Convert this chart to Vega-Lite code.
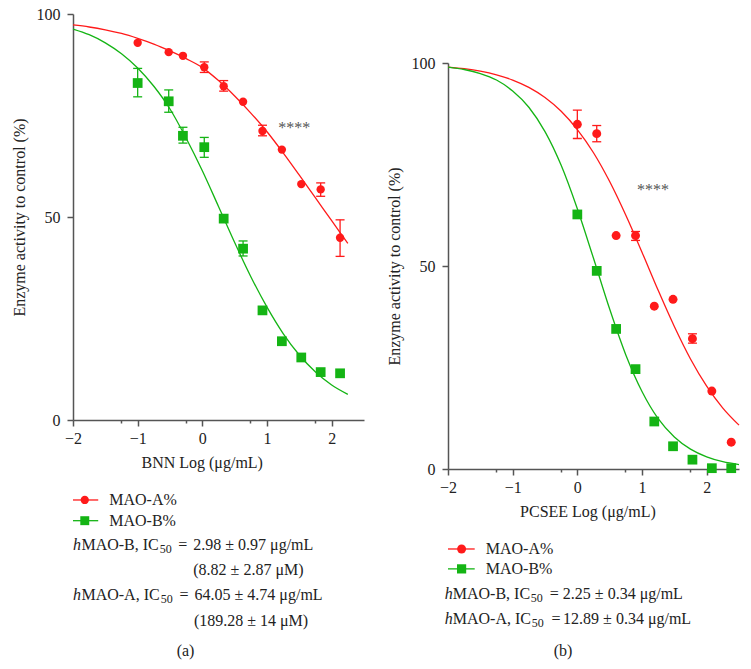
{
  "$schema": "https://vega.github.io/schema/vega-lite/v6.json",
  "padding": {"left": 11, "top": 6, "right": 5, "bottom": 5},
  "autosize": {"type": "pad"},
  "background": "white",
  "bounds": "flush",
  "spacing": 84,
  "config": {
    "view": {"stroke": null},
    "font": "Liberation Serif",
    "axis": {"labelFont": "Liberation Serif", "titleFont": "Liberation Serif", "labelFontSize": 16, "titleFontSize": 16, "titleFontWeight": "normal", "labelColor": "#222", "titleColor": "#222", "domainColor": "#555", "tickColor": "#555", "domainWidth": 1.5, "tickWidth": 1.5, "grid": false, "labelFlush": false, "labelOverlap": false},
    "text": {"font": "Liberation Serif", "fontSize": 16, "color": "#222", "align": "left", "baseline": "middle"}
  },
  "hconcat": [
    {
      "width": 291,
      "height": 406,
      "encoding": {
        "x": {"field": "x", "type": "quantitative", "title": "BNN Log (μg/mL)", "scale": {"domain": [-2, 2.5], "nice": false, "zero": false},
          "axis": {"values": [-2, -1.26, -1, -0.26, 0, 0.74, 1, 1.74, 2], "labelExpr": "abs(datum.value - round(datum.value)) < 0.01 ? format(datum.value, 'd') : ''", "tickSize": {"condition": {"test": "abs(datum.value - round(datum.value)) < 0.01", "value": 6}, "value": 3}, "labelPadding": 4, "titlePadding": 8, "titleX": 128.7}},
        "y": {"field": "y", "type": "quantitative", "title": "Enzyme activity to control (%)", "scale": {"domain": [0, 100], "nice": false, "zero": false},
          "axis": {"values": [0, 50, 100], "tickSize": 6, "labelPadding": 7, "titlePadding": 9}}
      },
      "layer": [
        {
          "data": {"values": [
            {"series": "MAO-A%", "x": -2, "y": 97.3}, {"series": "MAO-A%", "x": -1.75, "y": 96.8}, {"series": "MAO-A%", "x": -1.5, "y": 96.1}, {"series": "MAO-A%", "x": -1.25, "y": 95.2}, {"series": "MAO-A%", "x": -1, "y": 94.0}, {"series": "MAO-A%", "x": -0.75, "y": 92.6}, {"series": "MAO-A%", "x": -0.5, "y": 90.9}, {"series": "MAO-A%", "x": -0.25, "y": 89.0}, {"series": "MAO-A%", "x": 0, "y": 86.8}, {"series": "MAO-A%", "x": 0.25, "y": 83.6}, {"series": "MAO-A%", "x": 0.5, "y": 79.8}, {"series": "MAO-A%", "x": 0.75, "y": 75.6}, {"series": "MAO-A%", "x": 1, "y": 71.0}, {"series": "MAO-A%", "x": 1.25, "y": 65.8}, {"series": "MAO-A%", "x": 1.5, "y": 60.3}, {"series": "MAO-A%", "x": 1.75, "y": 54.7}, {"series": "MAO-A%", "x": 2, "y": 49.1}, {"series": "MAO-A%", "x": 2.25, "y": 43.5},
            {"series": "MAO-B%", "x": -2, "y": 96.3}, {"series": "MAO-B%", "x": -1.75, "y": 94.9}, {"series": "MAO-B%", "x": -1.5, "y": 92.9}, {"series": "MAO-B%", "x": -1.25, "y": 90.2}, {"series": "MAO-B%", "x": -1, "y": 86.7}, {"series": "MAO-B%", "x": -0.75, "y": 82.2}, {"series": "MAO-B%", "x": -0.5, "y": 76.6}, {"series": "MAO-B%", "x": -0.25, "y": 69.4}, {"series": "MAO-B%", "x": 0, "y": 61.4}, {"series": "MAO-B%", "x": 0.25, "y": 52.6}, {"series": "MAO-B%", "x": 0.5, "y": 43.7}, {"series": "MAO-B%", "x": 0.75, "y": 35.3}, {"series": "MAO-B%", "x": 1, "y": 27.8}, {"series": "MAO-B%", "x": 1.25, "y": 21.3}, {"series": "MAO-B%", "x": 1.5, "y": 16.0}, {"series": "MAO-B%", "x": 1.75, "y": 11.8}, {"series": "MAO-B%", "x": 2, "y": 8.6}, {"series": "MAO-B%", "x": 2.25, "y": 6.3}
          ]},
          "mark": {"type": "line", "strokeWidth": 1.3, "interpolate": "monotone"},
          "encoding": {"color": {"field": "series", "type": "nominal", "scale": {"domain": ["MAO-A%", "MAO-B%"], "range": ["#ff1a1a", "#14b414"]}, "legend": null}}
        },
        {
          "data": {"values": [
            {"series": "MAO-A%", "x": 0.03, "y": 85.6, "y2": 88.2}, {"series": "MAO-A%", "x": 0.33, "y": 81.0, "y2": 83.6}, {"series": "MAO-A%", "x": 0.93, "y": 70.0, "y2": 72.6}, {"series": "MAO-A%", "x": 1.83, "y": 55.1, "y2": 58.4}, {"series": "MAO-A%", "x": 2.13, "y": 40.3, "y2": 49.3},
            {"series": "MAO-B%", "x": -1, "y": 79.6, "y2": 86.6}, {"series": "MAO-B%", "x": -0.52, "y": 75.8, "y2": 81.3}, {"series": "MAO-B%", "x": -0.3, "y": 68.2, "y2": 72.1}, {"series": "MAO-B%", "x": 0.03, "y": 64.7, "y2": 69.6}, {"series": "MAO-B%", "x": 0.63, "y": 40.4, "y2": 44.1}
          ]},
          "layer": [
            {"mark": {"type": "rule", "strokeWidth": 1.3}, "encoding": {"y2": {"field": "y2"}, "color": {"field": "series", "type": "nominal", "scale": {"domain": ["MAO-A%", "MAO-B%"], "range": ["#ff1a1a", "#14b414"]}, "legend": null}}},
            {"mark": {"type": "tick", "orient": "horizontal", "size": 9, "thickness": 1.3, "opacity": 1}, "encoding": {"color": {"field": "series", "type": "nominal", "scale": {"domain": ["MAO-A%", "MAO-B%"], "range": ["#ff1a1a", "#14b414"]}, "legend": null}}},
            {"mark": {"type": "tick", "orient": "horizontal", "size": 9, "thickness": 1.3, "opacity": 1}, "encoding": {"y": {"field": "y2", "type": "quantitative"}, "color": {"field": "series", "type": "nominal", "scale": {"domain": ["MAO-A%", "MAO-B%"], "range": ["#ff1a1a", "#14b414"]}, "legend": null}}}
          ]
        },
        {
          "data": {"values": [
            {"series": "MAO-A%", "x": -1, "y": 92.9}, {"series": "MAO-A%", "x": -0.52, "y": 90.6}, {"series": "MAO-A%", "x": -0.3, "y": 89.7}, {"series": "MAO-A%", "x": 0.03, "y": 86.9}, {"series": "MAO-A%", "x": 0.33, "y": 82.2}, {"series": "MAO-A%", "x": 0.63, "y": 78.4}, {"series": "MAO-A%", "x": 0.93, "y": 71.2}, {"series": "MAO-A%", "x": 1.23, "y": 66.6}, {"series": "MAO-A%", "x": 1.53, "y": 58.1}, {"series": "MAO-A%", "x": 1.83, "y": 56.8}, {"series": "MAO-A%", "x": 2.13, "y": 44.9},
            {"series": "MAO-B%", "x": -1, "y": 83.0}, {"series": "MAO-B%", "x": -0.52, "y": 78.5}, {"series": "MAO-B%", "x": -0.3, "y": 70.0}, {"series": "MAO-B%", "x": 0.03, "y": 67.2}, {"series": "MAO-B%", "x": 0.33, "y": 49.6}, {"series": "MAO-B%", "x": 0.63, "y": 42.2}, {"series": "MAO-B%", "x": 0.93, "y": 27.0}, {"series": "MAO-B%", "x": 1.23, "y": 19.4}, {"series": "MAO-B%", "x": 1.53, "y": 15.4}, {"series": "MAO-B%", "x": 1.83, "y": 11.8}, {"series": "MAO-B%", "x": 2.13, "y": 11.5}
          ]},
          "layer": [
            {"transform": [{"filter": "datum.series === 'MAO-A%'"}], "mark": {"type": "circle", "size": 70, "opacity": 1, "color": "#ff1a1a"}},
            {"transform": [{"filter": "datum.series === 'MAO-B%'"}], "mark": {"type": "square", "size": 95, "opacity": 1, "color": "#14b414"}}
          ]
        },
        {
          "data": {"values": [
            {"series": "MAO-A%", "x": -2.0, "x2": -1.61, "xm": -1.818, "tx": -1.44, "y": -19.7, "t": "MAO-A%"},
            {"series": "MAO-B%", "x": -2.0, "x2": -1.61, "xm": -1.818, "tx": -1.44, "y": -24.8, "t": "MAO-B%"}
          ]},
          "layer": [
            {"mark": {"type": "rule", "strokeWidth": 1.3}, "encoding": {"x2": {"field": "x2"}, "color": {"field": "series", "type": "nominal", "scale": {"domain": ["MAO-A%", "MAO-B%"], "range": ["#ff1a1a", "#14b414"]}, "legend": null}}},
            {"transform": [{"filter": "datum.series === 'MAO-A%'"}], "mark": {"type": "circle", "size": 68, "opacity": 1, "color": "#ff1a1a"}, "encoding": {"x": {"field": "xm", "type": "quantitative"}}},
            {"transform": [{"filter": "datum.series === 'MAO-B%'"}], "mark": {"type": "square", "size": 80, "opacity": 1, "color": "#14b414"}, "encoding": {"x": {"field": "xm", "type": "quantitative"}}},
            {"mark": {"type": "text"}, "encoding": {"x": {"field": "tx", "type": "quantitative"}, "text": {"field": "t"}}}
          ]
        },
        {
          "data": {"values": [
            {"x": -1.87, "y": -30.8, "t": "MAO-B, IC"},
            {"x": -0.374, "y": -30.8, "t": "="},
            {"x": -0.14, "y": -30.8, "t": "2.98 ± 0.97 μg/mL"},
            {"x": -0.14, "y": -37.0, "t": "(8.82 ± 2.87 μM)"},
            {"x": -1.87, "y": -43.1, "t": "MAO-A, IC"},
            {"x": -0.355, "y": -43.1, "t": "="},
            {"x": -0.12, "y": -43.1, "t": "64.05 ± 4.74 μg/mL"},
            {"x": -0.13, "y": -49.4, "t": "(189.28 ± 14 μM)"}
          ]},
          "mark": {"type": "text"},
          "encoding": {"text": {"field": "t"}}
        },
        {
          "data": {"values": [{"x": -2.0, "y": -30.8, "t": "h"}, {"x": -2.0, "y": -43.1, "t": "h"}]},
          "mark": {"type": "text", "fontStyle": "italic"},
          "encoding": {"text": {"field": "t"}}
        },
        {
          "data": {"values": [{"x": -0.657, "y": -31.8, "t": "50"}, {"x": -0.642, "y": -44.1, "t": "50"}]},
          "mark": {"type": "text", "fontSize": 12},
          "encoding": {"text": {"field": "t"}}
        },
        {
          "data": {"values": [{"x": 1.42, "y": 72.0, "t": "****"}]},
          "mark": {"type": "text", "align": "center", "color": "#555", "fontSize": 16},
          "encoding": {"text": {"field": "t"}}
        },
        {
          "data": {"values": [{"x": -0.26, "y": -56.8, "t": "(a)"}]},
          "mark": {"type": "text", "align": "center"},
          "encoding": {"text": {"field": "t"}}
        }
      ]
    },
    {
      "width": 291,
      "height": 455,
      "encoding": {
        "x": {"field": "x", "type": "quantitative", "title": "PCSEE Log (μg/mL)", "scale": {"domain": [-2, 2.5], "nice": false, "zero": false},
          "axis": {"values": [-2, -1.26, -1, -0.26, 0, 0.74, 1, 1.74, 2], "labelExpr": "abs(datum.value - round(datum.value)) < 0.01 ? format(datum.value, 'd') : ''", "tickSize": {"condition": {"test": "abs(datum.value - round(datum.value)) < 0.01", "value": 6}, "value": 3}, "labelPadding": 4, "titlePadding": 8, "titleX": 139.4}},
        "y": {"field": "y", "type": "quantitative", "title": "Enzyme activity to control (%)", "scale": {"domain": [0, 100], "range": [455, 49], "nice": false, "zero": false},
          "axis": {"values": [0, 50, 100], "tickSize": 6, "labelPadding": 7, "titlePadding": 9}}
      },
      "layer": [
        {
          "data": {"values": [
            {"series": "MAO-A%", "x": -2, "y": 99.0}, {"series": "MAO-A%", "x": -1.75, "y": 98.6}, {"series": "MAO-A%", "x": -1.5, "y": 98.0}, {"series": "MAO-A%", "x": -1.25, "y": 97.1}, {"series": "MAO-A%", "x": -1, "y": 95.8}, {"series": "MAO-A%", "x": -0.75, "y": 94.0}, {"series": "MAO-A%", "x": -0.5, "y": 91.5}, {"series": "MAO-A%", "x": -0.25, "y": 88.1}, {"series": "MAO-A%", "x": 0, "y": 83.6}, {"series": "MAO-A%", "x": 0.25, "y": 77.9}, {"series": "MAO-A%", "x": 0.5, "y": 70.8}, {"series": "MAO-A%", "x": 0.75, "y": 62.5}, {"series": "MAO-A%", "x": 1, "y": 53.4}, {"series": "MAO-A%", "x": 1.25, "y": 44.0}, {"series": "MAO-A%", "x": 1.5, "y": 35.1}, {"series": "MAO-A%", "x": 1.75, "y": 27.1}, {"series": "MAO-A%", "x": 2, "y": 20.4}, {"series": "MAO-A%", "x": 2.25, "y": 15.0}, {"series": "MAO-A%", "x": 2.5, "y": 10.8},
            {"series": "MAO-B%", "x": -2, "y": 99.0}, {"series": "MAO-B%", "x": -1.75, "y": 98.4}, {"series": "MAO-B%", "x": -1.5, "y": 97.4}, {"series": "MAO-B%", "x": -1.25, "y": 95.8}, {"series": "MAO-B%", "x": -1, "y": 93.1}, {"series": "MAO-B%", "x": -0.75, "y": 89.1}, {"series": "MAO-B%", "x": -0.5, "y": 83.1}, {"series": "MAO-B%", "x": -0.25, "y": 74.8}, {"series": "MAO-B%", "x": 0, "y": 64.1}, {"series": "MAO-B%", "x": 0.25, "y": 51.9}, {"series": "MAO-B%", "x": 0.5, "y": 39.4}, {"series": "MAO-B%", "x": 0.75, "y": 28.1}, {"series": "MAO-B%", "x": 1, "y": 19.1}, {"series": "MAO-B%", "x": 1.25, "y": 12.4}, {"series": "MAO-B%", "x": 1.5, "y": 7.9}, {"series": "MAO-B%", "x": 1.75, "y": 4.9}, {"series": "MAO-B%", "x": 2, "y": 3.0}, {"series": "MAO-B%", "x": 2.25, "y": 1.8}, {"series": "MAO-B%", "x": 2.5, "y": 1.1}
          ]},
          "mark": {"type": "line", "strokeWidth": 1.3, "interpolate": "monotone"},
          "encoding": {"color": {"field": "series", "type": "nominal", "scale": {"domain": ["MAO-A%", "MAO-B%"], "range": ["#ff1a1a", "#14b414"]}, "legend": null}}
        },
        {
          "data": {"values": [
            {"series": "MAO-A%", "x": 0, "y": 81.4, "y2": 88.4}, {"series": "MAO-A%", "x": 0.3, "y": 80.6, "y2": 84.6}, {"series": "MAO-A%", "x": 0.9, "y": 56.3, "y2": 58.5}, {"series": "MAO-A%", "x": 1.78, "y": 31.0, "y2": 33.3}
          ]},
          "layer": [
            {"mark": {"type": "rule", "strokeWidth": 1.3}, "encoding": {"y2": {"field": "y2"}, "color": {"field": "series", "type": "nominal", "scale": {"domain": ["MAO-A%", "MAO-B%"], "range": ["#ff1a1a", "#14b414"]}, "legend": null}}},
            {"mark": {"type": "tick", "orient": "horizontal", "size": 9, "thickness": 1.3, "opacity": 1}, "encoding": {"color": {"field": "series", "type": "nominal", "scale": {"domain": ["MAO-A%", "MAO-B%"], "range": ["#ff1a1a", "#14b414"]}, "legend": null}}},
            {"mark": {"type": "tick", "orient": "horizontal", "size": 9, "thickness": 1.3, "opacity": 1}, "encoding": {"y": {"field": "y2", "type": "quantitative"}, "color": {"field": "series", "type": "nominal", "scale": {"domain": ["MAO-A%", "MAO-B%"], "range": ["#ff1a1a", "#14b414"]}, "legend": null}}}
          ]
        },
        {
          "data": {"values": [
            {"series": "MAO-A%", "x": 0, "y": 84.9}, {"series": "MAO-A%", "x": 0.3, "y": 82.6}, {"series": "MAO-A%", "x": 0.6, "y": 57.5}, {"series": "MAO-A%", "x": 0.9, "y": 57.5}, {"series": "MAO-A%", "x": 1.19, "y": 40.1}, {"series": "MAO-A%", "x": 1.48, "y": 41.8}, {"series": "MAO-A%", "x": 1.78, "y": 32.1}, {"series": "MAO-A%", "x": 2.08, "y": 19.2}, {"series": "MAO-A%", "x": 2.38, "y": 6.6},
            {"series": "MAO-B%", "x": 0, "y": 62.7}, {"series": "MAO-B%", "x": 0.3, "y": 48.8}, {"series": "MAO-B%", "x": 0.6, "y": 34.5}, {"series": "MAO-B%", "x": 0.9, "y": 24.6}, {"series": "MAO-B%", "x": 1.19, "y": 11.7}, {"series": "MAO-B%", "x": 1.48, "y": 5.6}, {"series": "MAO-B%", "x": 1.78, "y": 2.3}, {"series": "MAO-B%", "x": 2.08, "y": 0.2}, {"series": "MAO-B%", "x": 2.38, "y": 0.2}
          ]},
          "layer": [
            {"transform": [{"filter": "datum.series === 'MAO-A%'"}], "mark": {"type": "circle", "size": 80, "opacity": 1, "color": "#ff1a1a"}},
            {"transform": [{"filter": "datum.series === 'MAO-B%'"}], "mark": {"type": "square", "size": 95, "opacity": 1, "color": "#14b414"}}
          ]
        },
        {
          "data": {"values": [
            {"series": "MAO-A%", "x": -2.0, "x2": -1.587, "xm": -1.79, "tx": -1.416, "y": -19.7, "t": "MAO-A%"},
            {"series": "MAO-B%", "x": -2.0, "x2": -1.587, "xm": -1.79, "tx": -1.416, "y": -24.6, "t": "MAO-B%"}
          ]},
          "layer": [
            {"mark": {"type": "rule", "strokeWidth": 1.3}, "encoding": {"x2": {"field": "x2"}, "color": {"field": "series", "type": "nominal", "scale": {"domain": ["MAO-A%", "MAO-B%"], "range": ["#ff1a1a", "#14b414"]}, "legend": null}}},
            {"transform": [{"filter": "datum.series === 'MAO-A%'"}], "mark": {"type": "circle", "size": 80, "opacity": 1, "color": "#ff1a1a"}, "encoding": {"x": {"field": "xm", "type": "quantitative"}}},
            {"transform": [{"filter": "datum.series === 'MAO-B%'"}], "mark": {"type": "square", "size": 85, "opacity": 1, "color": "#14b414"}, "encoding": {"x": {"field": "xm", "type": "quantitative"}}},
            {"mark": {"type": "text"}, "encoding": {"x": {"field": "tx", "type": "quantitative"}, "text": {"field": "t"}}}
          ]
        },
        {
          "data": {"values": [
            {"x": -1.927, "y": -30.8, "t": "MAO-B, IC"},
            {"x": -0.426, "y": -30.8, "t": "="},
            {"x": -0.224, "y": -30.8, "t": "2.25 ± 0.34 μg/mL"},
            {"x": -1.927, "y": -36.9, "t": "MAO-A, IC"},
            {"x": -0.399, "y": -36.9, "t": "="},
            {"x": -0.22, "y": -36.9, "t": "12.89 ± 0.34 μg/mL"}
          ]},
          "mark": {"type": "text"},
          "encoding": {"text": {"field": "t"}}
        },
        {
          "data": {"values": [{"x": -2.051, "y": -30.8, "t": "h"}, {"x": -2.051, "y": -36.9, "t": "h"}]},
          "mark": {"type": "text", "fontStyle": "italic"},
          "encoding": {"text": {"field": "t"}}
        },
        {
          "data": {"values": [{"x": -0.72, "y": -31.8, "t": "50"}, {"x": -0.704, "y": -37.9, "t": "50"}]},
          "mark": {"type": "text", "fontSize": 12},
          "encoding": {"text": {"field": "t"}}
        },
        {
          "data": {"values": [{"x": 1.17, "y": 68.8, "t": "****"}]},
          "mark": {"type": "text", "align": "center", "color": "#555", "fontSize": 16},
          "encoding": {"text": {"field": "t"}}
        },
        {
          "data": {"values": [{"x": -0.22, "y": -44.75, "t": "(b)"}]},
          "mark": {"type": "text", "align": "center"},
          "encoding": {"text": {"field": "t"}}
        }
      ]
    }
  ]
}
